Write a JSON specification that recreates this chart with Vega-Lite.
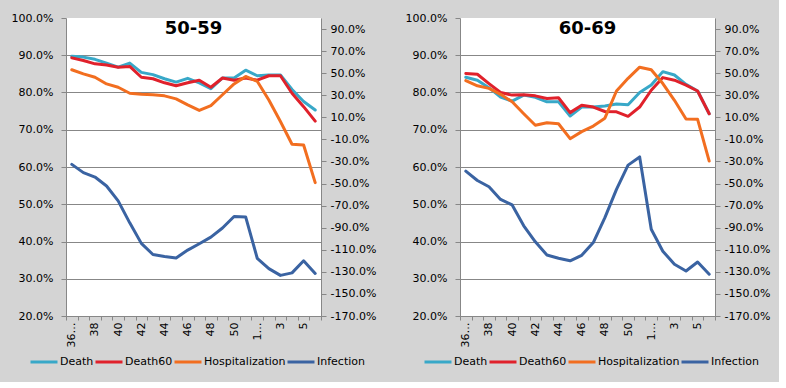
{
  "$schema": "https://vega.github.io/schema/vega-lite/v6.json",
  "background": "#d4d4d4",
  "padding": {"left": 11, "top": 12, "right": 9, "bottom": 15},
  "bounds": "flush",
  "spacing": 139,
  "config": {
    "font": "DejaVu Sans",
    "view": {"fill": "white", "stroke": null},
    "axis": {"labelFont": "DejaVu Sans", "labelFontSize": 11, "labelColor": "#000000", "tickColor": "#878787", "domainColor": "#878787", "gridColor": "#878787", "domainWidth": 1, "tickWidth": 1, "gridWidth": 1},
    "line": {"strokeWidth": 3, "strokeJoin": "round", "strokeCap": "round"}
  },
  "data": {"values": [
    {"a":"50-59","w":"36 2020","s":"Death","v":0.897},{"a":"50-59","w":"37","s":"Death","v":0.895},{"a":"50-59","w":"38","s":"Death","v":0.889},{"a":"50-59","w":"39","s":"Death","v":0.879},{"a":"50-59","w":"40","s":"Death","v":0.868},{"a":"50-59","w":"41","s":"Death","v":0.879},{"a":"50-59","w":"42","s":"Death","v":0.854},{"a":"50-59","w":"43","s":"Death","v":0.848},{"a":"50-59","w":"44","s":"Death","v":0.837},{"a":"50-59","w":"45","s":"Death","v":0.828},{"a":"50-59","w":"46","s":"Death","v":0.838},{"a":"50-59","w":"47","s":"Death","v":0.826},{"a":"50-59","w":"48","s":"Death","v":0.810},{"a":"50-59","w":"49","s":"Death","v":0.839},{"a":"50-59","w":"50","s":"Death","v":0.839},{"a":"50-59","w":"51","s":"Death","v":0.860},{"a":"50-59","w":"1 2021","s":"Death","v":0.845},{"a":"50-59","w":"2","s":"Death","v":0.847},{"a":"50-59","w":"3","s":"Death","v":0.847},{"a":"50-59","w":"4","s":"Death","v":0.808},{"a":"50-59","w":"5","s":"Death","v":0.776},{"a":"50-59","w":"6","s":"Death","v":0.753},
    {"a":"50-59","w":"36 2020","s":"Death60","v":0.893},{"a":"50-59","w":"37","s":"Death60","v":0.886},{"a":"50-59","w":"38","s":"Death60","v":0.877},{"a":"50-59","w":"39","s":"Death60","v":0.874},{"a":"50-59","w":"40","s":"Death60","v":0.868},{"a":"50-59","w":"41","s":"Death60","v":0.870},{"a":"50-59","w":"42","s":"Death60","v":0.841},{"a":"50-59","w":"43","s":"Death60","v":0.837},{"a":"50-59","w":"44","s":"Death60","v":0.826},{"a":"50-59","w":"45","s":"Death60","v":0.818},{"a":"50-59","w":"46","s":"Death60","v":0.826},{"a":"50-59","w":"47","s":"Death60","v":0.833},{"a":"50-59","w":"48","s":"Death60","v":0.814},{"a":"50-59","w":"49","s":"Death60","v":0.839},{"a":"50-59","w":"50","s":"Death60","v":0.833},{"a":"50-59","w":"51","s":"Death60","v":0.839},{"a":"50-59","w":"1 2021","s":"Death60","v":0.833},{"a":"50-59","w":"2","s":"Death60","v":0.845},{"a":"50-59","w":"3","s":"Death60","v":0.845},{"a":"50-59","w":"4","s":"Death60","v":0.798},{"a":"50-59","w":"5","s":"Death60","v":0.762},{"a":"50-59","w":"6","s":"Death60","v":0.723},
    {"a":"50-59","w":"36 2020","s":"Hospitalization","v":0.861},{"a":"50-59","w":"37","s":"Hospitalization","v":0.850},{"a":"50-59","w":"38","s":"Hospitalization","v":0.841},{"a":"50-59","w":"39","s":"Hospitalization","v":0.823},{"a":"50-59","w":"40","s":"Hospitalization","v":0.814},{"a":"50-59","w":"41","s":"Hospitalization","v":0.798},{"a":"50-59","w":"42","s":"Hospitalization","v":0.795},{"a":"50-59","w":"43","s":"Hospitalization","v":0.794},{"a":"50-59","w":"44","s":"Hospitalization","v":0.791},{"a":"50-59","w":"45","s":"Hospitalization","v":0.783},{"a":"50-59","w":"46","s":"Hospitalization","v":0.767},{"a":"50-59","w":"47","s":"Hospitalization","v":0.752},{"a":"50-59","w":"48","s":"Hospitalization","v":0.765},{"a":"50-59","w":"49","s":"Hospitalization","v":0.794},{"a":"50-59","w":"50","s":"Hospitalization","v":0.823},{"a":"50-59","w":"51","s":"Hospitalization","v":0.843},{"a":"50-59","w":"1 2021","s":"Hospitalization","v":0.830},{"a":"50-59","w":"2","s":"Hospitalization","v":0.780},{"a":"50-59","w":"3","s":"Hospitalization","v":0.722},{"a":"50-59","w":"4","s":"Hospitalization","v":0.661},{"a":"50-59","w":"5","s":"Hospitalization","v":0.659},{"a":"50-59","w":"6","s":"Hospitalization","v":0.558},
    {"a":"50-59","w":"36 2020","s":"Infection","v":-0.326},{"a":"50-59","w":"37","s":"Infection","v":-0.401},{"a":"50-59","w":"38","s":"Infection","v":-0.441},{"a":"50-59","w":"39","s":"Infection","v":-0.522},{"a":"50-59","w":"40","s":"Infection","v":-0.657},{"a":"50-59","w":"41","s":"Infection","v":-0.856},{"a":"50-59","w":"42","s":"Infection","v":-1.042},{"a":"50-59","w":"43","s":"Infection","v":-1.143},{"a":"50-59","w":"44","s":"Infection","v":-1.160},{"a":"50-59","w":"45","s":"Infection","v":-1.174},{"a":"50-59","w":"46","s":"Infection","v":-1.103},{"a":"50-59","w":"47","s":"Infection","v":-1.045},{"a":"50-59","w":"48","s":"Infection","v":-0.985},{"a":"50-59","w":"49","s":"Infection","v":-0.903},{"a":"50-59","w":"50","s":"Infection","v":-0.799},{"a":"50-59","w":"51","s":"Infection","v":-0.802},{"a":"50-59","w":"1 2021","s":"Infection","v":-1.177},{"a":"50-59","w":"2","s":"Infection","v":-1.271},{"a":"50-59","w":"3","s":"Infection","v":-1.332},{"a":"50-59","w":"4","s":"Infection","v":-1.309},{"a":"50-59","w":"5","s":"Infection","v":-1.200},{"a":"50-59","w":"6","s":"Infection","v":-1.315},
    {"a":"60-69","w":"36 2020","s":"Death","v":0.841},{"a":"60-69","w":"37","s":"Death","v":0.833},{"a":"60-69","w":"38","s":"Death","v":0.813},{"a":"60-69","w":"39","s":"Death","v":0.788},{"a":"60-69","w":"40","s":"Death","v":0.777},{"a":"60-69","w":"41","s":"Death","v":0.793},{"a":"60-69","w":"42","s":"Death","v":0.787},{"a":"60-69","w":"43","s":"Death","v":0.775},{"a":"60-69","w":"44","s":"Death","v":0.775},{"a":"60-69","w":"45","s":"Death","v":0.737},{"a":"60-69","w":"46","s":"Death","v":0.761},{"a":"60-69","w":"47","s":"Death","v":0.761},{"a":"60-69","w":"48","s":"Death","v":0.764},{"a":"60-69","w":"49","s":"Death","v":0.769},{"a":"60-69","w":"50","s":"Death","v":0.767},{"a":"60-69","w":"51","s":"Death","v":0.800},{"a":"60-69","w":"1 2021","s":"Death","v":0.820},{"a":"60-69","w":"2","s":"Death","v":0.856},{"a":"60-69","w":"3","s":"Death","v":0.847},{"a":"60-69","w":"4","s":"Death","v":0.822},{"a":"60-69","w":"5","s":"Death","v":0.804},{"a":"60-69","w":"6","s":"Death","v":0.743},
    {"a":"60-69","w":"36 2020","s":"Death60","v":0.851},{"a":"60-69","w":"37","s":"Death60","v":0.849},{"a":"60-69","w":"38","s":"Death60","v":0.824},{"a":"60-69","w":"39","s":"Death60","v":0.800},{"a":"60-69","w":"40","s":"Death60","v":0.793},{"a":"60-69","w":"41","s":"Death60","v":0.794},{"a":"60-69","w":"42","s":"Death60","v":0.791},{"a":"60-69","w":"43","s":"Death60","v":0.784},{"a":"60-69","w":"44","s":"Death60","v":0.786},{"a":"60-69","w":"45","s":"Death60","v":0.746},{"a":"60-69","w":"46","s":"Death60","v":0.766},{"a":"60-69","w":"47","s":"Death60","v":0.761},{"a":"60-69","w":"48","s":"Death60","v":0.749},{"a":"60-69","w":"49","s":"Death60","v":0.748},{"a":"60-69","w":"50","s":"Death60","v":0.736},{"a":"60-69","w":"51","s":"Death60","v":0.761},{"a":"60-69","w":"1 2021","s":"Death60","v":0.806},{"a":"60-69","w":"2","s":"Death60","v":0.840},{"a":"60-69","w":"3","s":"Death60","v":0.833},{"a":"60-69","w":"4","s":"Death60","v":0.820},{"a":"60-69","w":"5","s":"Death60","v":0.804},{"a":"60-69","w":"6","s":"Death60","v":0.743},
    {"a":"60-69","w":"36 2020","s":"Hospitalization","v":0.832},{"a":"60-69","w":"37","s":"Hospitalization","v":0.818},{"a":"60-69","w":"38","s":"Hospitalization","v":0.811},{"a":"60-69","w":"39","s":"Hospitalization","v":0.795},{"a":"60-69","w":"40","s":"Hospitalization","v":0.775},{"a":"60-69","w":"41","s":"Hospitalization","v":0.743},{"a":"60-69","w":"42","s":"Hospitalization","v":0.712},{"a":"60-69","w":"43","s":"Hospitalization","v":0.719},{"a":"60-69","w":"44","s":"Hospitalization","v":0.716},{"a":"60-69","w":"45","s":"Hospitalization","v":0.676},{"a":"60-69","w":"46","s":"Hospitalization","v":0.695},{"a":"60-69","w":"47","s":"Hospitalization","v":0.710},{"a":"60-69","w":"48","s":"Hospitalization","v":0.731},{"a":"60-69","w":"49","s":"Hospitalization","v":0.804},{"a":"60-69","w":"50","s":"Hospitalization","v":0.838},{"a":"60-69","w":"51","s":"Hospitalization","v":0.868},{"a":"60-69","w":"1 2021","s":"Hospitalization","v":0.861},{"a":"60-69","w":"2","s":"Hospitalization","v":0.824},{"a":"60-69","w":"3","s":"Hospitalization","v":0.779},{"a":"60-69","w":"4","s":"Hospitalization","v":0.729},{"a":"60-69","w":"5","s":"Hospitalization","v":0.728},{"a":"60-69","w":"6","s":"Hospitalization","v":0.616},
    {"a":"60-69","w":"36 2020","s":"Infection","v":-0.387},{"a":"60-69","w":"37","s":"Infection","v":-0.472},{"a":"60-69","w":"38","s":"Infection","v":-0.529},{"a":"60-69","w":"39","s":"Infection","v":-0.644},{"a":"60-69","w":"40","s":"Infection","v":-0.694},{"a":"60-69","w":"41","s":"Infection","v":-0.883},{"a":"60-69","w":"42","s":"Infection","v":-1.028},{"a":"60-69","w":"43","s":"Infection","v":-1.147},{"a":"60-69","w":"44","s":"Infection","v":-1.177},{"a":"60-69","w":"45","s":"Infection","v":-1.200},{"a":"60-69","w":"46","s":"Infection","v":-1.150},{"a":"60-69","w":"47","s":"Infection","v":-1.035},{"a":"60-69","w":"48","s":"Infection","v":-0.809},{"a":"60-69","w":"49","s":"Infection","v":-0.553},{"a":"60-69","w":"50","s":"Infection","v":-0.333},{"a":"60-69","w":"51","s":"Infection","v":-0.259},{"a":"60-69","w":"1 2021","s":"Infection","v":-0.914},{"a":"60-69","w":"2","s":"Infection","v":-1.113},{"a":"60-69","w":"3","s":"Infection","v":-1.231},{"a":"60-69","w":"4","s":"Infection","v":-1.292},{"a":"60-69","w":"5","s":"Infection","v":-1.211},{"a":"60-69","w":"6","s":"Infection","v":-1.322}
  ]},
  "hconcat": [
    {
      "width": 255, "height": 298,
      "title": {"text": "50-59", "fontSize": 18, "fontWeight": "bold", "font": "DejaVu Sans", "anchor": "middle", "frame": "group", "offset": -40, "baseline": "alphabetic", "color": "#000000"},
      "transform": [{"filter": "datum.a == '50-59'"}],
      "encoding": {
        "x": {"field": "w", "type": "ordinal", "bandPosition": 0.5,
          "scale": {"type": "band", "paddingInner": 0, "paddingOuter": 0, "domain": ["36 2020","37","38","39","40","41","42","43","44","45","46","47","48","49","50","51","1 2021","2","3","4","5","6"]},
          "axis": {"title": null, "tickBand": "extent", "labelAngle": -90, "tickSize": 4, "labelPadding": 2, "labelOverlap": false, "grid": false,
            "labelExpr": "datum.value == '36 2020' ? '36…' : datum.value == '1 2021' ? '1…' : (toNumber(datum.value) >= 36 ? (toNumber(datum.value) % 2 == 0 ? datum.value : '') : (toNumber(datum.value) % 2 == 1 ? datum.value : ''))"}},
        "color": {"field": "s", "type": "nominal",
          "scale": {"domain": ["Death","Death60","Hospitalization","Infection"], "range": ["#38a8c8","#e0212b","#f26e20","#3a63a2"]},
          "legend": {"orient": "none", "legendX": -37, "legendY": 329, "direction": "horizontal", "title": null, "symbolType": "stroke", "symbolSize": 729, "symbolStrokeWidth": 3, "labelFontSize": 11, "labelFont": "DejaVu Sans", "labelOffset": 1, "columnPadding": 0, "padding": 0, "labelColor": "#000000"}}
      },
      "layer": [
        {"transform": [{"filter": "datum.s != 'Infection'"}], "mark": {"type": "line"},
          "encoding": {"y": {"field": "v", "type": "quantitative", "scale": {"domain": [0.2, 1.0]},
            "axis": {"orient": "left", "title": null, "values": [0.2,0.3,0.4,0.5,0.6,0.7,0.8,0.9,1.0], "format": ".1%", "tickSize": 5, "labelPadding": 8, "grid": true,
              "gridOpacity": {"condition": {"test": "datum.value > 0.95", "value": 0}, "value": 1}}}}},
        {"transform": [{"filter": "datum.s == 'Infection'"}], "mark": {"type": "line"},
          "encoding": {"y": {"field": "v", "type": "quantitative", "scale": {"domain": [-1.7, 1.0]},
            "axis": {"orient": "right", "title": null, "values": [-1.7,-1.5,-1.3,-1.1,-0.9,-0.7,-0.5,-0.3,-0.1,0.1,0.3,0.5,0.7,0.9], "labelExpr": "(datum.value < 0 ? '-' : '') + format(abs(datum.value), '.1%')", "tickSize": 5, "labelPadding": 4, "grid": false}}}}
      ],
      "resolve": {"scale": {"y": "independent"}}
    },
    {
      "width": 255, "height": 298,
      "title": {"text": "60-69", "fontSize": 18, "fontWeight": "bold", "font": "DejaVu Sans", "anchor": "middle", "frame": "group", "offset": -40, "baseline": "alphabetic", "color": "#000000"},
      "transform": [{"filter": "datum.a == '60-69'"}],
      "encoding": {
        "x": {"field": "w", "type": "ordinal", "bandPosition": 0.5,
          "scale": {"type": "band", "paddingInner": 0, "paddingOuter": 0, "domain": ["36 2020","37","38","39","40","41","42","43","44","45","46","47","48","49","50","51","1 2021","2","3","4","5","6"]},
          "axis": {"title": null, "tickBand": "extent", "labelAngle": -90, "tickSize": 4, "labelPadding": 2, "labelOverlap": false, "grid": false,
            "labelExpr": "datum.value == '36 2020' ? '36…' : datum.value == '1 2021' ? '1…' : (toNumber(datum.value) >= 36 ? (toNumber(datum.value) % 2 == 0 ? datum.value : '') : (toNumber(datum.value) % 2 == 1 ? datum.value : ''))"}},
        "color": {"field": "s", "type": "nominal",
          "scale": {"domain": ["Death","Death60","Hospitalization","Infection"], "range": ["#38a8c8","#e0212b","#f26e20","#3a63a2"]},
          "legend": {"orient": "none", "legendX": -37, "legendY": 329, "direction": "horizontal", "title": null, "symbolType": "stroke", "symbolSize": 729, "symbolStrokeWidth": 3, "labelFontSize": 11, "labelFont": "DejaVu Sans", "labelOffset": 1, "columnPadding": 0, "padding": 0, "labelColor": "#000000"}}
      },
      "layer": [
        {"transform": [{"filter": "datum.s != 'Infection'"}], "mark": {"type": "line"},
          "encoding": {"y": {"field": "v", "type": "quantitative", "scale": {"domain": [0.2, 1.0]},
            "axis": {"orient": "left", "title": null, "values": [0.2,0.3,0.4,0.5,0.6,0.7,0.8,0.9,1.0], "format": ".1%", "tickSize": 5, "labelPadding": 8, "grid": true,
              "gridOpacity": {"condition": {"test": "datum.value > 0.95", "value": 0}, "value": 1}}}}},
        {"transform": [{"filter": "datum.s == 'Infection'"}], "mark": {"type": "line"},
          "encoding": {"y": {"field": "v", "type": "quantitative", "scale": {"domain": [-1.7, 1.0]},
            "axis": {"orient": "right", "title": null, "values": [-1.7,-1.5,-1.3,-1.1,-0.9,-0.7,-0.5,-0.3,-0.1,0.1,0.3,0.5,0.7,0.9], "labelExpr": "(datum.value < 0 ? '-' : '') + format(abs(datum.value), '.1%')", "tickSize": 5, "labelPadding": 4, "grid": false}}}}
      ],
      "resolve": {"scale": {"y": "independent"}}
    }
  ],
  "resolve": {"scale": {"color": "independent"}, "legend": {"color": "independent"}}
}
